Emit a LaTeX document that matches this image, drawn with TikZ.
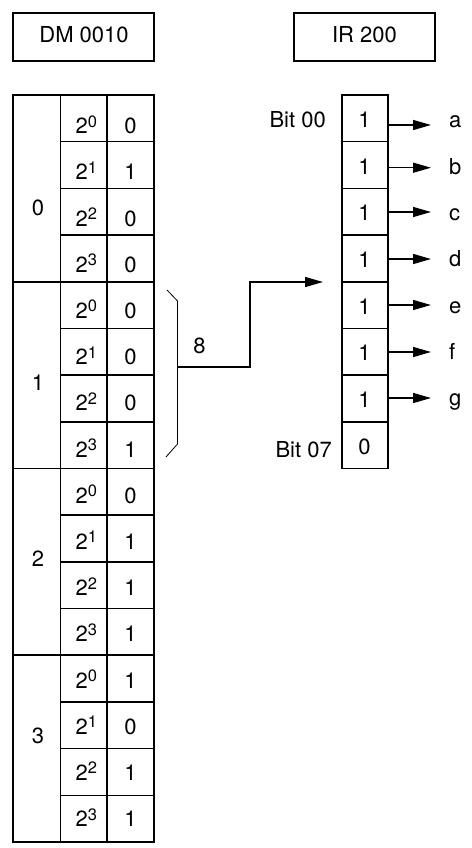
\documentclass[tikz,border=0pt]{standalone}
\usepackage{fontspec}
\setmainfont{TeX Gyre Heros}
\usetikzlibrary{arrows.meta}
\newcommand\pwr[1]{\raisebox{6.5pt}{\fontsize{16.5}{17}\selectfont#1}}
\begin{document}
\begin{tikzpicture}[x=1pt,y=-1pt,
  grid/.style={line width=1.6pt},
  cell/.style={draw,line width=1.6pt,inner sep=0pt,minimum width=46pt,minimum height=46.6875pt},
  txt/.style={inner sep=0pt,anchor=base,font=\fontsize{22}{24}\selectfont},
  outarrow/.style={line width=1.4pt,-{Triangle[length=18pt,width=10pt]}},
  brace/.style={line width=0.8pt}]
\useasboundingbox (0,0) rectangle (471,848);
% header boxes
\node[draw,line width=1.6pt,minimum width=141pt,minimum height=48pt] (dmbox) at (83.5,37) {};
\node[txt] (dm) at (84,43) {DM 0010};
\node[draw,line width=1.6pt,minimum width=141pt,minimum height=48pt] (irbox) at (364.5,37) {};
\node[txt] (ir) at (364.5,43) {IR 200};
% DM table grid
\draw[grid] (13,95) rectangle (154,842);
\draw[grid] (60.3,95) -- (60.3,842);
\draw[grid] (106.7,95) -- (106.7,842);
\foreach \k in {1,...,15}{
  \pgfmathtruncatemacro\m{mod(\k,4)}
  \pgfmathsetmacro\yy{95+\k*46.6875}
  \ifnum\m=0
    \draw[grid] (13,\yy) -- (154,\yy);
  \else
    \draw[grid] (60.3,\yy) -- (154,\yy);
  \fi
}
% group labels
\foreach \g/\yb in {0/215,1/390,2/566,3/743}{
  \node[txt] (grp\g) at (38,\yb) {\g};
}
% bit weights and values
\foreach \v [count=\i from 0] in {0,1,0,0,0,0,0,1,0,1,1,1,1,0,1,1}{
  \pgfmathsetmacro\yb{133.6+\i*46.2}
  \pgfmathtruncatemacro\e{mod(\i,4)}
  \node[txt,anchor=base west] (w\i) at (75.5,\yb) {2\pwr{\e}};
  \node[txt] (v\i) at (130.5,\yb) {\v};
}
% IR cells
\foreach \v [count=\i from 0] in {1,1,1,1,1,1,1,0}{
  \pgfmathsetmacro\yc{95+(\i+0.5)*46.6875}
  \node[cell] (r\i) at (365,\yc) {};
  \node[txt] (rv\i) at (364.5,\yc+9.1) {\v};
}
\node[txt,anchor=base east] (bit00) at (326,128) {Bit 00};
\node[txt,anchor=base east] (bit07) at (332,457) {Bit 07};
% output arrows and letters
\foreach \l/\ay [count=\i from 0] in {a/125,b/167.7,c/212,d/259,e/305,f/352,g/398}{
  \pgfmathsetmacro\yb{128+\i*46.3}
  \node[txt,anchor=base west] (L\i) at (449,\yb) {\l};
  \coordinate (t\i) at (431,\ay);
  \draw[outarrow] (r\i.east |- t\i) -- (t\i);
}
% bracket
\coordinate (bt) at (167,290);
\coordinate (bt2) at (177.5,301);
\coordinate (bb2) at (177.5,444);
\coordinate (bb) at (166,457);
\draw[brace] (bt) -- (bt2) -- (bb2) -- (bb);
% input connector
\coordinate (src) at (177.5,367);
\coordinate (bend) at (250,282);
\coordinate (tip) at (323,282);
\draw[outarrow,line join=miter] (src) -| (bend) -- (tip);
\node[txt] (eight) at (199.5,353) {8};
\end{tikzpicture}
\end{document}
